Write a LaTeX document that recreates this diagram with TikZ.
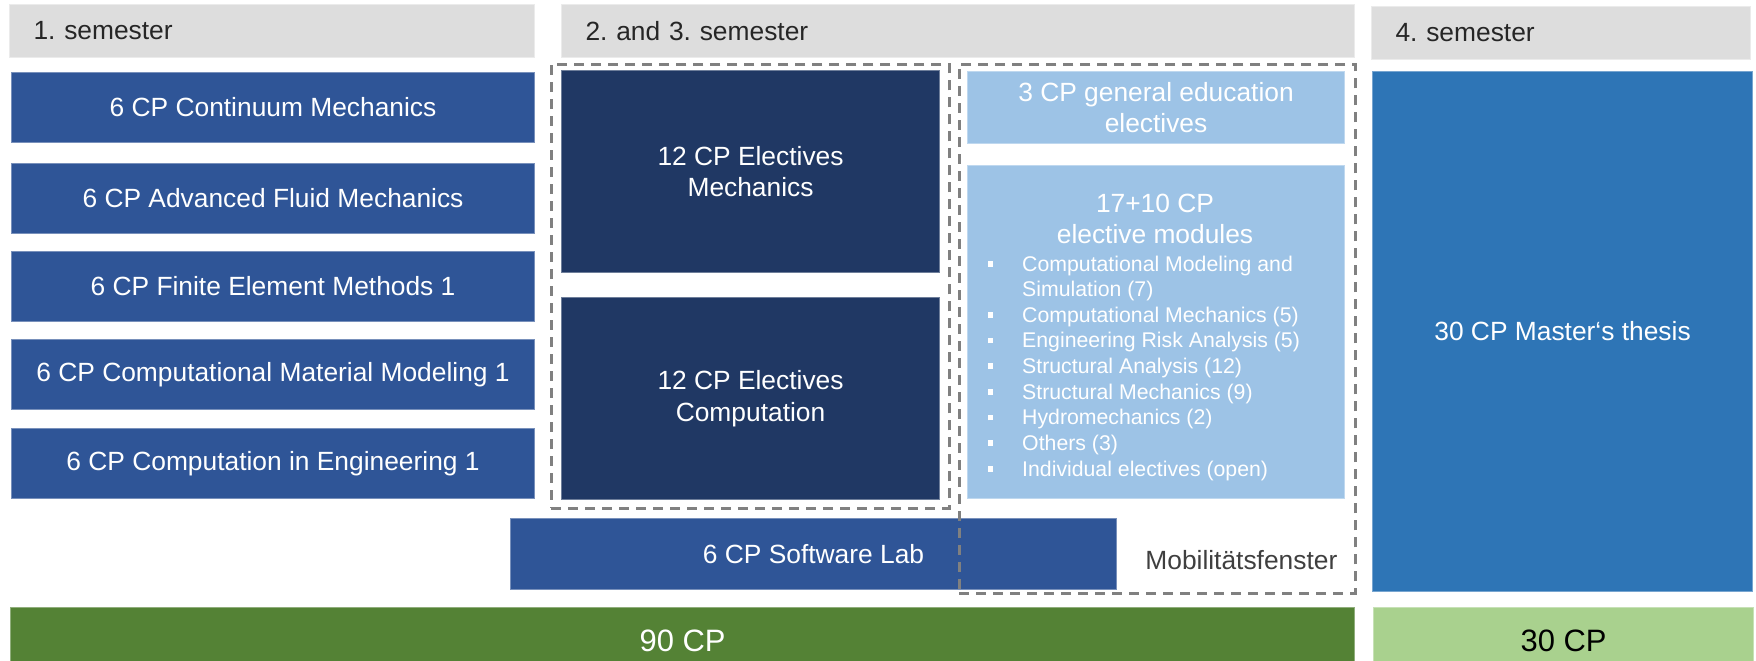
\documentclass[tikz,border=0pt]{standalone}
\usepackage{fontspec}
\setmainfont{Liberation Sans}
\frenchspacing

\definecolor{hdrgray}{HTML}{DDDDDD}
\definecolor{hdrtext}{HTML}{262626}
\definecolor{modblue}{HTML}{2F5597}
\definecolor{darkblue}{HTML}{203864}
\definecolor{lightblue}{HTML}{9DC3E6}
\definecolor{thesisblue}{HTML}{2E75B6}
\definecolor{sumgreen}{HTML}{548235}
\definecolor{sumlight}{HTML}{A9D18E}
\definecolor{dashgray}{HTML}{808080}
\definecolor{mobtext}{HTML}{3F3F3F}

\newcommand{\modfont}{\fontsize{7.5}{8.9}\selectfont}
\newcommand{\listfont}{\fontsize{6.05}{7.29}\selectfont}
\newcommand{\sumfont}{\fontsize{8.8}{10}\selectfont}
\newcommand{\itm}[1]{\makebox[0.345cm][l]{\raisebox{1.3pt}{\rule{1.6pt}{1.6pt}}}#1}

\begin{document}
\begin{tikzpicture}[x=1cm, y=-1cm]
        \tikzset{
            modbox/.style={anchor=north west, inner sep=0pt, align=center, font=\modfont, text=white, fill=#1, draw=#1!65!white, line width=0.3pt},
            header/.style={anchor=north west, inner xsep=0.24cm, inner ysep=0pt, minimum height=0.53cm, align=left, font=\modfont, text=hdrtext, fill=hdrgray, draw=hdrgray!60!white, line width=0.3pt},
            mobframe/.style={anchor=north west, inner sep=0pt, draw=dashgray, line width=0.75pt, dash pattern=on 0.1cm off 0.07cm}
        }
        \useasboundingbox (0,0) rectangle (17.56,6.60);

        \node[header, text width=4.77cm] (semA) at (0.09,0.04) {1. semester};
        \node[header, text width=7.45cm] (semB) at (5.61,0.04) {2. and 3. semester};
        \node[header, text width=3.31cm] (semC) at (13.71,0.06) {4. semester};

        \node[modbox=modblue, minimum width=5.23cm, minimum height=0.70cm] (contmech) at (0.11,0.72) {6 CP Continuum Mechanics};
        \node[modbox=modblue, minimum width=5.23cm, minimum height=0.70cm] (fluid) at (0.11,1.63) {6 CP Advanced Fluid Mechanics};
        \node[modbox=modblue, minimum width=5.23cm, minimum height=0.70cm] (fem) at (0.11,2.51) {6 CP Finite Element Methods 1};
        \node[modbox=modblue, minimum width=5.23cm, minimum height=0.70cm] (matmod) at (0.11,3.39) {6 CP Computational Material Modeling 1};
        \node[modbox=modblue, minimum width=5.23cm, minimum height=0.70cm] (compeng) at (0.11,4.28) {6 CP Computation in Engineering 1};

        \node[modbox=darkblue, minimum width=3.78cm, minimum height=2.02cm] (elmech) at (5.61,0.70) {12 CP Electives\\Mechanics};
        \node[modbox=darkblue, minimum width=3.78cm, minimum height=2.02cm] (elcomp) at (5.61,2.97) {12 CP Electives\\Computation};

        \node[modbox=lightblue, minimum width=3.77cm, minimum height=0.72cm] (geneds) at (9.67,0.71) {3 CP general education\\electives};
        \node[modbox=lightblue, minimum width=3.77cm, minimum height=3.33cm] (elecmods) at (9.67,1.65) {};
        \node[font=\modfont, text=white, align=center, inner sep=0pt] (elechead) at (11.55,2.19) {17+10 CP\\elective modules};
        \node[anchor=north west, inner sep=0pt, font=\listfont, text=white, align=left] (eleclist) at (9.87,2.55) {%
            \itm{Computational Modeling and}\\
            \hspace{0.345cm}Simulation (7)\\
            \itm{Computational Mechanics (5)}\\
            \itm{Engineering Risk Analysis (5)}\\
            \itm{Structural Analysis (12)}\\
            \itm{Structural Mechanics (9)}\\
            \itm{Hydromechanics (2)}\\
            \itm{Others (3)}\\
            \itm{Individual electives (open)}};

        \node[modbox=modblue, minimum width=6.06cm, minimum height=0.71cm] (swlab) at (5.10,5.18) {6 CP Software Lab};
        \node[modbox=thesisblue, minimum width=3.80cm, minimum height=5.20cm] (thesis) at (13.72,0.71) {30 CP Master‘s thesis};

        % dashed windows over the electives
        \node[mobframe, minimum width=3.98cm, minimum height=4.44cm] (winA) at (5.50,0.63) {};
        \node[mobframe, minimum width=3.96cm, minimum height=5.29cm] (winB) at (9.58,0.63) {};
        \node[anchor=east, inner sep=0pt, font=\modfont, text=mobtext] (mobil) at (13.38,5.60) {Mobilitätsfenster};

        \node[modbox=sumgreen, font=\sumfont, minimum width=13.44cm, minimum height=0.66cm] (sumA) at (0.10,6.07) {90 CP};
        \node[modbox=sumlight, font=\sumfont, text=black, minimum width=3.80cm, minimum height=0.66cm] (sumB) at (13.73,6.07) {30 CP};
    \end{tikzpicture}
\end{document}
